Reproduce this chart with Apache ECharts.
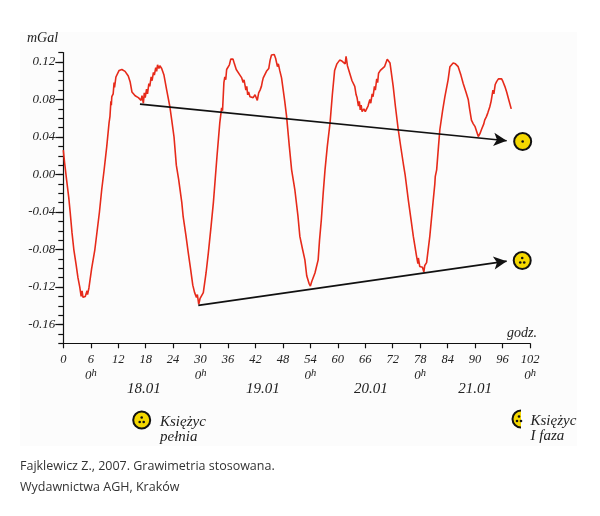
<!DOCTYPE html>
<html>
<head>
<meta charset="utf-8">
<script src="https://cdn.jsdelivr.net/npm/echarts@6/dist/echarts.min.js"></script>
<style>
  html, body { margin: 0; padding: 0; background: #ffffff; }
  #chart { width: 600px; height: 516px; }
</style>
</head>
<body>
<div id="chart"></div>
<script>
// hours since start of record (18.01, 0h at 6)
var hours = [
    0, 0.3, 0.7, 1.2, 1.5, 1.9, 2.3, 2.8, 3.2, 3.6, 3.8, 3.9, 4.1, 4.3, 4.5, 4.8, 5.0, 5.2, 5.3, 5.6,
    6.2, 6.9, 7.4, 7.9, 8.4, 8.9, 9.5, 10.0, 10.2, 10.4, 10.5, 10.6, 10.9, 11.1, 11.2, 11.5, 11.8, 12.2, 12.8, 13.5,
    14.2, 14.6, 15.0, 15.4, 15.7, 16.4, 16.8, 17.0, 17.2, 17.5, 17.7, 17.9, 18.2, 18.4, 18.7, 18.9, 19.2, 19.4, 19.7, 19.9,
    20.2, 20.4, 20.6, 20.9, 21.1, 21.5, 22.0, 22.6, 23.3, 23.7, 24.2, 24.7, 25.2, 25.9, 26.2, 26.8, 27.3, 27.8, 28.3, 28.7,
    29.1, 29.3, 29.6, 29.9, 30.2, 30.6, 31.2, 31.7, 32.3, 32.8, 33.2, 33.6, 34.2, 34.6, 34.8, 35.1, 35.3, 35.5, 35.7, 36.0,
    36.3, 36.6, 37.1, 37.4, 37.6, 37.8, 38.2, 38.6, 39.0, 39.3, 39.5, 39.7, 39.9, 40.1, 40.3, 40.5, 40.8, 41.5, 41.9, 42.2,
    42.4, 42.7, 43.0, 43.3, 43.5, 43.7, 44.0, 44.4, 44.9, 45.2, 45.5, 46.1, 46.4, 46.6, 46.8, 47.0, 47.3, 47.7, 48.4, 48.8,
    49.4, 49.9, 50.4, 50.6, 51.3, 51.7, 52.3, 52.8, 53.2, 53.5, 53.7, 54.0, 54.3, 54.6, 55.0, 55.7, 56.0, 56.4, 56.8, 57.2,
    57.7, 58.3, 58.8, 59.3, 59.8, 60.4, 60.9, 61.2, 61.6, 61.8, 62.0, 62.1, 62.6, 63.1, 63.7, 64.0, 64.2, 64.4, 64.5, 64.7,
    64.9, 65.1, 65.3, 65.7, 66.0, 66.3, 66.6, 66.8, 67.0, 67.2, 67.5, 67.7, 68.0, 68.2, 68.5, 68.7, 68.9, 69.3, 69.6, 70.2,
    70.6, 70.8, 71.1, 71.4, 72.1, 72.6, 73.2, 73.8, 74.3, 74.7, 75.4, 76.0, 76.5, 77.2, 77.5, 77.6, 77.9, 78.2, 78.5, 78.8,
    79.0, 79.4, 80.1, 80.8, 81.2, 81.3, 81.6, 82.0, 82.3, 82.9, 83.4, 84.1, 84.5, 85.2, 85.7, 86.3, 86.9, 87.4, 88.0, 88.5,
    88.8, 89.2, 89.6, 90.0, 90.3, 90.7, 91.1, 91.4, 91.9, 92.1, 92.3, 92.5, 92.8, 93.0, 93.2, 93.5, 93.7, 93.9, 94.1, 94.4,
    94.7, 95.1, 95.4, 95.8, 96.1, 96.5, 96.9, 97.4, 97.9
];
// tidal gravity change, mGal
var mgal = [
    0.026, 0.012, -0.005, -0.025, -0.040, -0.062, -0.080, -0.096, -0.110, -0.120, -0.122, -0.130, -0.124, -0.131, -0.133, -0.130, -0.127, -0.124, -0.128, -0.121,
    -0.100, -0.080, -0.060, -0.040, -0.016, 0.004, 0.030, 0.055, 0.062, 0.078, 0.074, 0.083, 0.086, 0.098, 0.093, 0.104, 0.105, 0.111, 0.112, 0.110,
    0.105, 0.099, 0.088, 0.086, 0.084, 0.082, 0.083, 0.079, 0.084, 0.076, 0.087, 0.082, 0.091, 0.086, 0.097, 0.094, 0.104, 0.100, 0.109, 0.106,
    0.114, 0.110, 0.117, 0.113, 0.116, 0.113, 0.106, 0.090, 0.072, 0.058, 0.040, 0.010, -0.005, -0.030, -0.045, -0.065, -0.083, -0.100, -0.118, -0.126,
    -0.131, -0.128, -0.1385, -0.132, -0.134, -0.126, -0.105, -0.0835, -0.055, -0.030, -0.005, 0.020, 0.055, 0.071, 0.068, 0.098, 0.104, 0.101, 0.112, 0.110,
    0.117, 0.123, 0.123, 0.118, 0.120, 0.112, 0.111, 0.106, 0.103, 0.098, 0.101, 0.0955, 0.090, 0.094, 0.085, 0.088, 0.083, 0.082, 0.085, 0.085,
    0.079, 0.087, 0.090, 0.094, 0.099, 0.103, 0.102, 0.110, 0.113, 0.122, 0.1275, 0.128, 0.124, 0.122, 0.115, 0.118, 0.111, 0.103, 0.078, 0.062,
    0.030, 0.005, -0.010, -0.016, -0.045, -0.066, -0.080, -0.091, -0.108, -0.110, -0.116, -0.119, -0.114, -0.112, -0.105, -0.091, -0.070, -0.048, -0.020, 0.005,
    0.030, 0.055, 0.085, 0.111, 0.118, 0.122, 0.121, 0.119, 0.118, 0.126, 0.124, 0.116, 0.108, 0.100, 0.094, 0.085, 0.082, 0.080, 0.073, 0.078,
    0.069, 0.074, 0.067, 0.070, 0.067, 0.065, 0.073, 0.071, 0.080, 0.076, 0.086, 0.083, 0.094, 0.090, 0.102, 0.098, 0.108, 0.111, 0.112, 0.115,
    0.116, 0.123, 0.121, 0.119, 0.094, 0.072, 0.048, 0.028, 0.012, 0.000, -0.027, -0.048, -0.066, -0.087, -0.095, -0.089, -0.098, -0.096, -0.099, -0.104,
    -0.097, -0.094, -0.066, -0.030, -0.010, -0.002, 0.005, 0.030, 0.048, 0.068, 0.083, 0.101, 0.115, 0.119, 0.118, 0.115, 0.106, 0.097, 0.088, 0.080,
    0.070, 0.058, 0.054, 0.051, 0.050, 0.0405, 0.044, 0.048, 0.054, 0.058, 0.056, 0.062, 0.066, 0.064, 0.072, 0.078, 0.076, 0.090, 0.086, 0.096,
    0.099, 0.102, 0.103, 0.102, 0.099, 0.094, 0.088, 0.079, 0.070
];

// arrows: start and end points [hour, mGal]
var arrowUpper = [[16.75, 0.075], [96.9, 0.036]];
var arrowLower = [[29.5, -0.1396], [96.9, -0.0924]];

// moon symbols at the arrow heads
var moonX = [100.4, 100.3];
var moonY = [0.0352, -0.0917];

// x tick values that get the "0h" midnight mark
var midnightTicks = [6, 30, 54, 78, 102];
var dayLabels = ['18.01', '19.01', '20.01', '21.01'];
var dayCenters = [17.6, 43.6, 67.2, 90];

var serif = '"Liberation Serif", "DejaVu Serif", serif';
var yellow = '#f5d800';

var curve = hours.map(function (h, i) { return [h, mgal[i]]; });

var chart = echarts.init(document.getElementById('chart'));

var option = {
    backgroundColor: '#ffffff',
    animation: false,
    grid: [
        { left: 63.3, right: 70, top: 52.6, bottom: 172.7 },
        // helper grid only for the longer ticks at labelled values
        { left: 63.3, right: 70, top: 61.98, bottom: 191.45 }
    ],
    xAxis: [
        {
            type: 'value',
            gridIndex: 0,
            min: 0,
            max: 102,
            interval: 6,
            splitLine: { show: false },
            axisLine: { onZero: false, lineStyle: { color: '#111', width: 1.2 } },
            axisTick: { length: 5, lineStyle: { color: '#111', width: 1.2 } },
            axisLabel: {
                margin: 9,
                color: '#222',
                fontFamily: serif,
                fontStyle: 'italic',
                fontSize: 12.5,
                lineHeight: 15,
                formatter: function (v) {
                    if (midnightTicks.indexOf(v) >= 0) {
                        return v + '\n{o|0}{h|h}';
                    }
                    return '' + v;
                },
                rich: {
                    o: { fontFamily: serif, fontStyle: 'italic', fontSize: 13, lineHeight: 15, verticalAlign: 'bottom', color: '#222' },
                    h: { fontFamily: serif, fontStyle: 'italic', fontSize: 10.5, lineHeight: 8, verticalAlign: 'top', color: '#222' }
                }
            }
        },
        { type: 'value', gridIndex: 1, min: 0, max: 1, show: false }
    ],
    yAxis: [
        {
            type: 'value',
            gridIndex: 0,
            min: -0.18,
            max: 0.13,
            interval: 0.01,
            splitLine: { show: false },
            axisLine: { onZero: false, lineStyle: { color: '#111', width: 1.2 } },
            axisTick: { length: 5, lineStyle: { color: '#111', width: 1.2 } },
            axisLabel: {
                margin: 8,
                color: '#222',
                fontFamily: serif,
                fontStyle: 'italic',
                fontSize: 13,
                formatter: function (v) {
                    var k = Math.round(v * 100);
                    if (k % 4 !== 0) return '';
                    return (k / 100).toFixed(2);
                }
            }
        },
        {
            type: 'value',
            gridIndex: 1,
            min: -0.16,
            max: 0.12,
            interval: 0.04,
            splitLine: { show: false },
            axisLine: { show: false },
            axisTick: { length: 8, lineStyle: { color: '#111', width: 1.2 } },
            axisLabel: { show: false }
        }
    ],
    series: [
        {
            name: 'tide',
            type: 'line',
            xAxisIndex: 0,
            yAxisIndex: 0,
            data: curve,
            showSymbol: false,
            symbol: 'none',
            lineStyle: { color: '#e62a1a', width: 1.6 },
            markLine: {
                silent: true,
                symbol: ['none', 'arrow'],
                symbolSize: [10, 13],
                label: { show: false },
                lineStyle: { color: '#111', width: 1.7, type: 'solid' },
                data: [
                    [{ coord: arrowUpper[0] }, { coord: arrowUpper[1] }],
                    [{ coord: arrowLower[0] }, { coord: arrowLower[1] }]
                ]
            }
        },
        {
            name: 'moon',
            type: 'scatter',
            clip: false,
            symbol: 'circle',
            symbolSize: 17,
            itemStyle: { color: yellow, borderColor: '#111', borderWidth: 2, opacity: 1 },
            data: moonX.map(function (x, i) { return [x, moonY[i]]; }),
            z: 5
        },
        {
            name: 'moon dots',
            type: 'scatter',
            clip: false,
            symbol: 'circle',
            symbolSize: 2.6,
            itemStyle: { color: '#111', opacity: 1 },
            data: [
                { value: [moonX[0], moonY[0]], symbolOffset: [0, 0] },
                { value: [moonX[1], moonY[1]], symbolOffset: [0, -2.5] },
                { value: [moonX[1], moonY[1]], symbolOffset: [-2, 2] },
                { value: [moonX[1], moonY[1]], symbolOffset: [2, 2] }
            ],
            z: 6
        }
    ]
};

chart.setOption(option);

// texts and legend drawn around the plot
var graphics = [
    { type: 'rect', z: -10, shape: { x: 20, y: 32, width: 557, height: 414 }, style: { fill: '#fcfcfc' } },
    { type: 'text', style: { text: 'mGal', x: 27, y: 38, font: 'italic 14px ' + serif, fill: '#222', align: 'left', verticalAlign: 'middle', textAlign: 'left', textVerticalAlign: 'middle' } },
    { type: 'text', style: { text: 'godz.', x: 522, y: 333, font: 'italic 14px ' + serif, fill: '#222', align: 'center', verticalAlign: 'middle', textAlign: 'center', textVerticalAlign: 'middle' } }
];

dayLabels.forEach(function (d, i) {
    var px = chart.convertToPixel({ xAxisIndex: 0 }, dayCenters[i]);
    graphics.push({
        type: 'text',
        style: { text: d, x: px, y: 389, font: 'italic 15px ' + serif, fill: '#222', align: 'center', verticalAlign: 'middle', textAlign: 'center', textVerticalAlign: 'middle' }
    });
});

// legend: full moon
graphics.push({ type: 'circle', shape: { cx: 141.7, cy: 420, r: 8.5 }, style: { fill: yellow, stroke: '#111', lineWidth: 2 } });
[[0, -2.5], [-2, 2], [2, 2]].forEach(function (o) {
    graphics.push({ type: 'circle', shape: { cx: 141.7 + o[0], cy: 420 + o[1], r: 1.3 }, style: { fill: '#111' } });
});
graphics.push({ type: 'text', style: { text: 'Księżyc', x: 160, y: 422, font: 'italic 15px ' + serif, fill: '#222', align: 'left', verticalAlign: 'middle', textAlign: 'left', textVerticalAlign: 'middle' } });
graphics.push({ type: 'text', style: { text: 'pełnia', x: 160, y: 437, font: 'italic 15px ' + serif, fill: '#222', align: 'left', verticalAlign: 'middle', textAlign: 'left', textVerticalAlign: 'middle' } });

// legend: first quarter (left half visible)
graphics.push({ type: 'sector', shape: { cx: 521, cy: 419, r: 8.5, r0: 0, startAngle: Math.PI / 2, endAngle: Math.PI * 3 / 2 }, style: { fill: yellow } });
graphics.push({ type: 'arc', shape: { cx: 521, cy: 419, r: 8.5, startAngle: Math.PI / 2, endAngle: Math.PI * 3 / 2 }, style: { stroke: '#111', lineWidth: 2, fill: null } });
[[-2, -2.5], [-4, 2], [0, 2]].forEach(function (o) {
    graphics.push({ type: 'circle', shape: { cx: 521 + o[0], cy: 419 + o[1], r: 1.3 }, style: { fill: '#111' } });
});
graphics.push({ type: 'text', style: { text: 'Księżyc', x: 530.5, y: 421, font: 'italic 15px ' + serif, fill: '#222', align: 'left', verticalAlign: 'middle', textAlign: 'left', textVerticalAlign: 'middle' } });
graphics.push({ type: 'text', style: { text: 'I faza', x: 530.5, y: 436, font: 'italic 15px ' + serif, fill: '#222', align: 'left', verticalAlign: 'middle', textAlign: 'left', textVerticalAlign: 'middle' } });

// source note
graphics.push({ type: 'text', style: { text: 'Fajklewicz Z., 2007. Grawimetria stosowana.', x: 20, y: 466, font: '12.5px "Open Sans", sans-serif', fill: '#333', align: 'left', verticalAlign: 'middle', textAlign: 'left', textVerticalAlign: 'middle' } });
graphics.push({ type: 'text', style: { text: 'Wydawnictwa AGH, Kraków', x: 20, y: 487, font: '12.5px "Open Sans", sans-serif', fill: '#333', align: 'left', verticalAlign: 'middle', textAlign: 'left', textVerticalAlign: 'middle' } });

chart.setOption({ graphic: { elements: graphics } });
</script>
</body>
</html>
